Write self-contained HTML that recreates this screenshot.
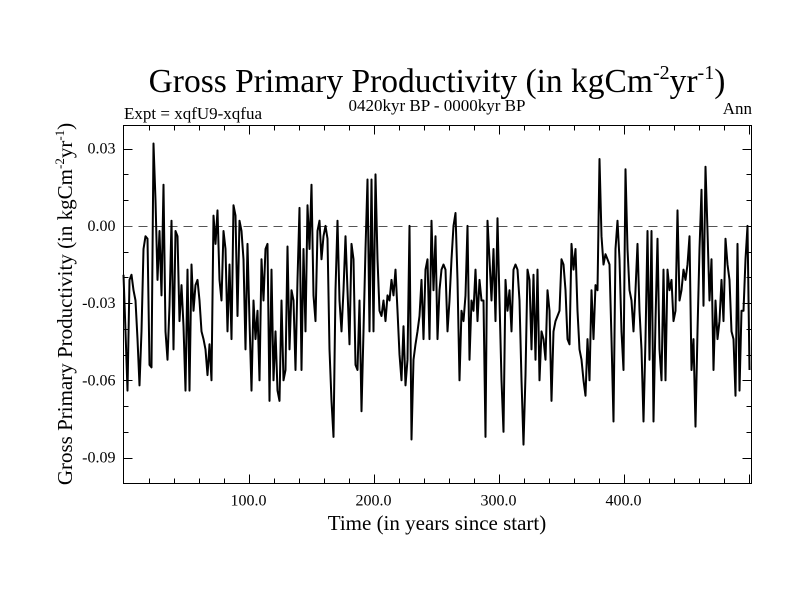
<!DOCTYPE html>
<html><head><meta charset="utf-8"><style>
body{margin:0;background:#fff;}
svg{display:block;font-family:"Liberation Serif",serif;}
</style></head><body>
<svg id="chart" width="800" height="600" viewBox="0 0 800 600" xmlns="http://www.w3.org/2000/svg">
<text x="437" y="92" text-anchor="middle" font-size="33.5">Gross Primary Productivity (in kgCm<tspan dy="-13" font-size="20">-2</tspan><tspan dy="13">yr</tspan><tspan dy="-13" font-size="20">-1</tspan><tspan dy="13">)</tspan></text>
<text x="124" y="119" font-size="17">Expt = xqfU9-xqfua</text>
<text x="437" y="111" text-anchor="middle" font-size="17">0420kyr BP - 0000kyr BP</text>
<text x="752" y="114" text-anchor="end" font-size="17">Ann</text>
<text x="437" y="530" text-anchor="middle" font-size="21">Time (in years since start)</text>
<text transform="translate(72,304) rotate(-90)" text-anchor="middle" font-size="21">Gross Primary Productivity (in kgCm<tspan dy="-8" font-size="13">-2</tspan><tspan dy="8">yr</tspan><tspan dy="-8" font-size="13">-1</tspan><tspan dy="8">)</tspan></text>
<g id="axes"></g>
<g id="series"></g>
<rect x="123.5" y="125.5" width="628" height="358" fill="none" stroke="#000" stroke-width="1"/>
</svg>
<script>
// values in 1e-3 kgC m-2 yr-1, sampled every 1.6 years from year 0
const gppMilli = [-19,-41,-64,-21,-19,-25,-29,-44,-62,-41,-9,-4,-5,-54,-55,32,10,-21,-2,-27,16,-41,-52,-31,2,-48,-2,-4,-37,-23,-39,-64,-17,-64,-15,-33,-23,-21,-29,-41,-44,-48,-58,-46,-60,4,-7,6,-21,-29,-2,-9,-41,-15,-44,8,4,-35,2,-2,-13,-48,-7,-37,
-64,-29,-44,-33,-60,-13,-29,-9,-7,-68,-17,-60,-41,-64,-68,-29,-60,-56,-8,-48,-25,-29,-56,-21,7,-56,-9,-41,8,-9,16,-27,-37,-2,2,-13,-4,0,-5,-48,-68,-82,-25,2,-29,-41,-25,-4,-25,-46,-7,-13,-54,-56,-29,-72,-41,-9,18,-41,18,-41,20,-13,-33,-35,-29,-37,-27,-29,-21,-27,-17,-33,-50,-60,-39,-62,-52,0,-83,-52,-46,-41,-35,-21,-44,-17,-13,-44,2,-25,-4,-44,-25,-17,-15,-17,-41,-29,-13,0,5,-21,-60,-33,-37,-27,0,-52,-29,-33,-17,-37,-21,-29,-29,-82,2,-13,-29,-9,-37,3,-29,-60,-80,-21,-33,-25,-41,-17,-15,-17,-29,-60,-85,-58,-17,-21,-48,-19,-52,-17,-60,-41,-44,-52,-25,-33,-68,-41,-37,-35,-33,-13,-15,-25,-44,-46,-7,-17,-9,-33,-48,-52,-60,-66,-44,-60,-25,-44,-23,-25,26,-4,-15,-11,-13,-15,-44,-76,-9,2,-13,-41,-56,22,-9,-25,-29,-41,-25,-7,-33,-48,-76,-44,-2,-52,-2,-76,-37,-5,-48,-60,-17,-60,-17,-25,-21,-37,-33,6,-29,-25,-17,-21,-15,-4,-56,-44,-78,-41,-9,14,-31,23,-2,-29,-13,-56,-29,-44,-37,-21,-37,-5,-15,-21,-41,-44,-66,-7,-64,-33,-33,-13,0,-56];
const startYear = 0;
const stepYears = 1.6;
const yTickValues = [0.03, 0.00, -0.03, -0.06, -0.09];
const yTickLabels = ["0.03", "0.00", "-0.03", "-0.06", "-0.09"];
const xTickValues = [100, 200, 300, 400];
const xTickLabels = ["100.0", "200.0", "300.0", "400.0"];

const X0=123.5, X1=751.5, Y0=125.5, Y1=483.5;
const xMin=0, xMax=502.4, yMin=-0.1001, yMax=0.039;
const xs = v => X0 + (v - xMin) / (xMax - xMin) * (X1 - X0);
const ys = v => Y1 - (v - yMin) / (yMax - yMin) * (Y1 - Y0);
const NS="http://www.w3.org/2000/svg";
const axes=document.getElementById('axes');
function line(x1,y1,x2,y2,name,extra){
  const l=document.createElementNS(NS,'line');
  l.setAttribute('x1',x1);l.setAttribute('y1',y1);l.setAttribute('x2',x2);l.setAttribute('y2',y2);
  l.setAttribute('stroke',extra||'#000');l.setAttribute('stroke-width','1');
  
  
  axes.appendChild(l);return l;
}
function text(x,y,s,anchor,name){
  const t=document.createElementNS(NS,'text');
  t.setAttribute('x',x);t.setAttribute('y',y);t.setAttribute('text-anchor',anchor);t.setAttribute('font-size','16');
  t.textContent=s;
  
  
  axes.appendChild(t);
}
for(let k=-10;k<=4;k++){
  const v=k*0.01; const y=Math.round(ys(v))+0.5;
  if(y<Y0||y>Y1) continue;
  const major = (k%3===0);
  const len = major?9:5;
  line(X0,y,X0+len,y,'y-tick');
  line(X1,y,X1-len,y,'y-tick-right');
}
yTickValues.forEach((v,i)=>{ text(X0-8, ys(v)+5, yTickLabels[i], 'end', 'y-tick-label'); });
for(let yr=20; yr<xMax; yr+=20){
  const x=Math.round(xs(yr))+0.5; const major=(yr%100===0); const len=major?9:5;
  line(x,Y1,x,Y1-len,'x-tick');
  line(x,Y0,x,Y0+len,'x-tick-top');
}
xTickValues.forEach((v,i)=>{ text(xs(v), Y1+22, xTickLabels[i], 'middle', 'x-tick-label'); });
const zl=line(X0,Math.round(ys(0))+0.5,X1,Math.round(ys(0))+0.5,'zero-line','#555');
zl.setAttribute('stroke-dasharray','9,6');
const pts=gppMilli.map((m,i)=>xs(startYear+i*stepYears).toFixed(1)+','+ys(m*0.001).toFixed(1)).join(' ');
const pl=document.createElementNS(NS,'polyline');
pl.setAttribute('points',pts);pl.setAttribute('fill','none');pl.setAttribute('stroke','#000');pl.setAttribute('stroke-width','2');pl.setAttribute('stroke-linejoin','round');


document.getElementById('series').appendChild(pl);
</script>
</body></html>
